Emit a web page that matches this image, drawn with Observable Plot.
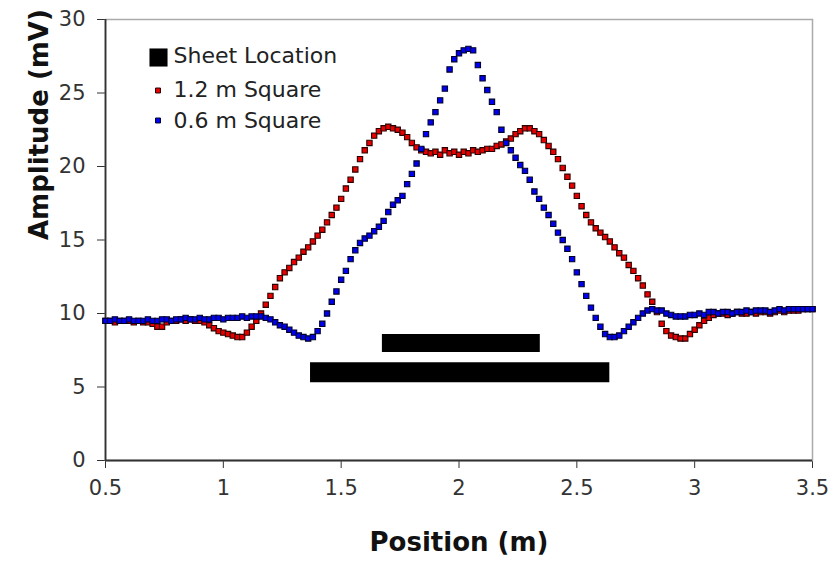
<!DOCTYPE html>
<html>
<head>
<meta charset="utf-8">
<script src="https://cdn.jsdelivr.net/npm/d3@7"></script>
<script src="https://cdn.jsdelivr.net/npm/@observablehq/plot@0.6"></script>
<style>
  html, body { margin: 0; padding: 0; background: #fff; }
  #chart { width: 837px; height: 563px; }
</style>
</head>
<body>
<div id="chart"></div>
<script>
// Sample positions (m)
const positions = [
  0.50,0.52,0.54,0.56,0.58,0.60,0.62,0.64,0.66,0.68,
  0.70,0.72,0.74,0.76,0.78,0.80,0.82,0.84,0.86,0.88,
  0.90,0.92,0.94,0.96,0.98,1.00,1.02,1.04,1.06,1.08,
  1.10,1.12,1.14,1.16,1.18,1.20,1.22,1.24,1.26,1.28,
  1.30,1.32,1.34,1.36,1.38,1.40,1.42,1.44,1.46,1.48,
  1.50,1.52,1.54,1.56,1.58,1.60,1.62,1.64,1.66,1.68,
  1.70,1.72,1.74,1.76,1.78,1.80,1.82,1.84,1.86,1.88,
  1.90,1.92,1.94,1.96,1.98,2.00,2.02,2.04,2.06,2.08,
  2.10,2.12,2.14,2.16,2.18,2.20,2.22,2.24,2.26,2.28,
  2.30,2.32,2.34,2.36,2.38,2.40,2.42,2.44,2.46,2.48,
  2.50,2.52,2.54,2.56,2.58,2.60,2.62,2.64,2.66,2.68,
  2.70,2.72,2.74,2.76,2.78,2.80,2.82,2.84,2.86,2.88,
  2.90,2.92,2.94,2.96,2.98,3.00,3.02,3.04,3.06,3.08,
  3.10,3.12,3.14,3.16,3.18,3.20,3.22,3.24,3.26,3.28,
  3.30,3.32,3.34,3.36,3.38,3.40,3.42,3.44,3.46,3.48,
  3.50
];

// Amplitude (mV), 1.2 m Square
const square12 = [
  9.5,9.5,9.4,9.5,9.5,9.5,9.4,9.5,9.4,9.4,
  9.3,9.1,9.1,9.4,9.5,9.5,9.6,9.5,9.6,9.5,
  9.5,9.4,9.2,9.0,8.8,8.7,8.6,8.5,8.4,8.4,
  8.7,9.1,9.5,10.0,10.6,11.2,11.8,12.4,12.8,13.1,
  13.5,13.8,14.2,14.5,14.9,15.3,15.7,16.2,16.7,17.2,
  17.8,18.5,19.1,19.8,20.5,21.1,21.6,22.1,22.4,22.6,
  22.7,22.6,22.5,22.3,22.0,21.6,21.3,21.1,21.0,20.9,
  21.0,20.8,21.1,20.9,21.0,20.8,21.0,20.9,21.1,21.0,
  21.1,21.2,21.2,21.4,21.5,21.7,21.9,22.2,22.4,22.6,
  22.6,22.4,22.2,21.8,21.4,21.0,20.5,19.9,19.3,18.7,
  18.0,17.3,16.7,16.2,15.8,15.5,15.2,14.9,14.5,14.1,
  13.8,13.3,12.9,12.4,11.9,11.3,10.8,10.1,9.3,8.8,
  8.5,8.4,8.3,8.3,8.6,8.9,9.2,9.5,9.7,9.9,
  10.0,10.0,9.9,10.0,10.1,10.0,10.0,10.1,10.0,10.1,
  10.1,10.0,10.1,10.2,10.1,10.2,10.2,10.2,10.3,10.3,
  10.3
];

// Amplitude (mV), 0.6 m Square
const square06 = [
  9.5,9.5,9.6,9.5,9.5,9.6,9.5,9.5,9.5,9.6,
  9.5,9.5,9.6,9.6,9.5,9.6,9.6,9.7,9.6,9.6,
  9.7,9.6,9.6,9.7,9.7,9.6,9.7,9.7,9.7,9.8,
  9.7,9.8,9.8,9.8,9.7,9.6,9.4,9.2,9.1,8.9,
  8.7,8.5,8.4,8.3,8.4,8.8,9.3,10.0,10.8,11.5,
  12.3,12.9,13.7,14.3,14.8,15.1,15.3,15.6,15.9,16.3,
  16.9,17.4,17.7,18.0,18.8,19.5,20.2,21.2,22.2,23.0,
  23.7,24.5,25.3,26.6,27.3,27.7,27.9,28.0,27.9,26.9,
  26.0,25.2,24.4,23.7,22.5,21.6,21.1,20.6,20.1,19.7,
  19.1,18.3,17.8,17.2,16.7,16.1,15.5,15.0,14.4,13.7,
  12.8,12.0,11.2,10.4,9.7,9.1,8.6,8.4,8.4,8.5,
  8.8,9.1,9.4,9.7,10.0,10.2,10.3,10.2,10.2,10.0,
  9.9,9.8,9.8,9.8,9.9,9.9,10.0,9.9,10.1,10.1,
  10.0,10.1,10.1,10.0,10.1,10.1,10.2,10.1,10.2,10.2,
  10.2,10.1,10.2,10.3,10.2,10.3,10.3,10.3,10.3,10.3,
  10.3
];

// Sheet locations (start, end in m; drawn at an amplitude level)
const sheetStart = [1.675, 1.37];
const sheetEnd   = [2.345, 2.64];
const sheetLevel = [8, 6];

// Tick labels
const xTicks = [0.5, 1, 1.5, 2, 2.5, 3, 3.5];
const yTicks = [0, 5, 10, 15, 20, 25, 30];

// Legend
const legendLabels = ["Sheet Location", "1.2 m Square", "0.6 m Square"];

const sheetWidths = [18, 20];
const legendRowY = [36, 70, 101];
const sheets = sheetStart.map((s, i) => ({x1: s, x2: sheetEnd[i], y: sheetLevel[i]}));
const red = positions.map((x, i) => ({x, y: square12[i]}));
const blue = positions.map((x, i) => ({x, y: square06[i]}));

const plot = Plot.plot({
  width: 837,
  height: 563,
  marginLeft: 105,
  marginRight: 25,
  marginTop: 19,
  marginBottom: 103,
  style: {fontFamily: "DejaVu Sans", fontSize: "21px", color: "#333", background: "#fff"},
  x: {domain: [0.5, 3.5], ticks: xTicks, tickFormat: d => String(d), tickSize: 8, tickPadding: 12, label: null},
  y: {domain: [0, 30], ticks: yTicks, tickFormat: d => String(d), tickSize: 8, tickPadding: 12, label: null},
  marks: [
    Plot.frame({stroke: "#aaa", strokeWidth: 1.5}),
    Plot.ruleX([0.5], {stroke: "#333", strokeWidth: 1.8}),
    Plot.ruleY([0], {stroke: "#333", strokeWidth: 1.8}),
    ...sheets.map((s, i) => Plot.ruleY([s], {x1: "x1", x2: "x2", y: "y", stroke: "#000", strokeWidth: sheetWidths[i]})),
    Plot.dot(red, {x: "x", y: "y", symbol: "square", r: 3.0, fill: "#e60000", stroke: "#2a0000", strokeWidth: 1.1}),
    Plot.dot(blue, {x: "x", y: "y", symbol: "square", r: 3.0, fill: "#0000f0", stroke: "#00002a", strokeWidth: 1.1}),
    // axis titles
    Plot.text(["Position (m)"], {frameAnchor: "bottom", dy: 82, text: d => d, fontSize: 26, fontWeight: "bold", fill: "#111", lineAnchor: "middle"}),
    Plot.text(["Amplitude (mV)"], {frameAnchor: "left", dx: -66, rotate: -90, text: d => d, fontSize: 26, fontWeight: "bold", fill: "#111", lineAnchor: "middle"}),
    // legend
    Plot.dot([legendLabels[0]], {frameAnchor: "top-left", dx: 53, dy: 38, symbol: "square", r: 10.2, fill: "#000"}),
    Plot.dot([legendLabels[1]], {frameAnchor: "top-left", dx: 52.5, dy: 71, symbol: "square", r: 2.8, fill: "#e60000", stroke: "#2a0000", strokeWidth: 1}),
    Plot.dot([legendLabels[2]], {frameAnchor: "top-left", dx: 52.5, dy: 101, symbol: "square", r: 2.8, fill: "#0000f0", stroke: "#00002a", strokeWidth: 1}),
    ...legendLabels.map((t, i) => Plot.text([t], {frameAnchor: "top-left", text: d => d, dx: 68, dy: legendRowY[i], fontSize: 22, fill: "#222", textAnchor: "start", lineAnchor: "middle"}))
  ]
});
document.getElementById("chart").appendChild(plot);
</script>
</body>
</html>
